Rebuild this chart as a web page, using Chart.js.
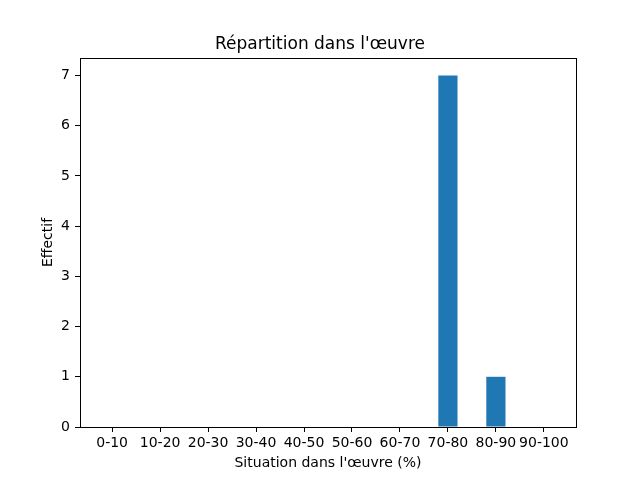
<!DOCTYPE html>
<html>
<head>
<meta charset="utf-8">
<script src="https://cdn.jsdelivr.net/npm/chart.js@4"></script>
<style>
  html, body { margin: 0; padding: 0; background: #fff; }
  #wrap { width: 640px; height: 480px; }
</style>
</head>
<body>
<div id="wrap"><canvas id="graphique" width="640" height="480"></canvas></div>
<script>
// tranches de la situation dans l'oeuvre
const categories = ["0-10", "10-20", "20-30", "30-40", "40-50", "50-60", "60-70", "70-80", "80-90", "90-100"];
const effectifs = [0, 0, 0, 0, 0, 0, 0, 7, 1, 0];
const yTicks = [0, 1, 2, 3, 4, 5, 6, 7];

const police = "'DejaVu Sans', sans-serif";

// cadre complet autour de la zone du graphique (comme matplotlib)
const cadre = {
  id: "cadre",
  afterDraw(chart) {
    const { ctx, chartArea } = chart;
    ctx.save();
    ctx.strokeStyle = "#000";
    ctx.lineWidth = 1;
    ctx.strokeRect(Math.round(chartArea.left) + 0.5, Math.round(chartArea.top) + 0.5,
      Math.round(chartArea.right - chartArea.left), Math.round(chartArea.bottom - chartArea.top));
    ctx.restore();
  }
};

const ctx = document.getElementById("graphique").getContext("2d");
new Chart(ctx, {
  type: "bar",
  data: {
    datasets: [{
      data: categories.map((c, i) => ({ x: i, y: effectifs[i] })),
      backgroundColor: "#1f77b4",
      borderWidth: 0,
      inflateAmount: 0,
      barPercentage: 0.4,
      categoryPercentage: 1.0
    }]
  },
  options: {
    responsive: false,
    animation: false,
    layout: { padding: 0 },
    plugins: {
      legend: { display: false },
      tooltip: { enabled: false },
      title: {
        display: true,
        text: "Répartition dans l'œuvre",
        color: "#000",
        font: { family: police, size: 17, weight: "normal" },
        padding: { top: 34, bottom: 3.6 }
      }
    },
    scales: {
      x: {
        type: "linear",
        offset: false,
        min: -0.67,
        max: 9.67,
        afterFit: (s) => { s.height = 53; },
        ticks: {
          stepSize: 1,
          includeBounds: false,
          autoSkip: false,
          maxRotation: 0,
          padding: 3,
          color: "#000",
          font: { family: police, size: 14 },
          callback: (v) => categories[v] ?? ""
        },
        grid: { offset: false, drawOnChartArea: false, drawTicks: true, tickLength: 5, color: "#000" },
        border: { color: "#000" },
        title: {
          display: true,
          text: "Situation dans l'œuvre (%)",
          color: "#000",
          font: { family: police, size: 14 },
          padding: { top: 0, bottom: 8 }
        }
      },
      y: {
        min: 0,
        max: 7.35,
        afterFit: (s) => { s.width = 80; },
        afterBuildTicks: (s) => { s.ticks = yTicks.map((v) => ({ value: v })); },
        ticks: {
          stepSize: 1,
          includeBounds: false,
          padding: 5,
          color: "#000",
          font: { family: police, size: 14 }
        },
        grid: { drawOnChartArea: false, drawTicks: true, tickLength: 5, color: "#000" },
        border: { color: "#000" },
        title: {
          display: true,
          text: "Effectif",
          color: "#000",
          font: { family: police, size: 14 },
          padding: { top: 39.5, bottom: 0 }
        }
      },
      // axe vide à droite pour garder la marge de matplotlib
      marge: {
        position: "right",
        afterFit: (s) => { s.width = 64; },
        ticks: { display: false },
        grid: { display: false },
        border: { display: false }
      }
    }
  },
  plugins: [cadre]
});
</script>
</body>
</html>
